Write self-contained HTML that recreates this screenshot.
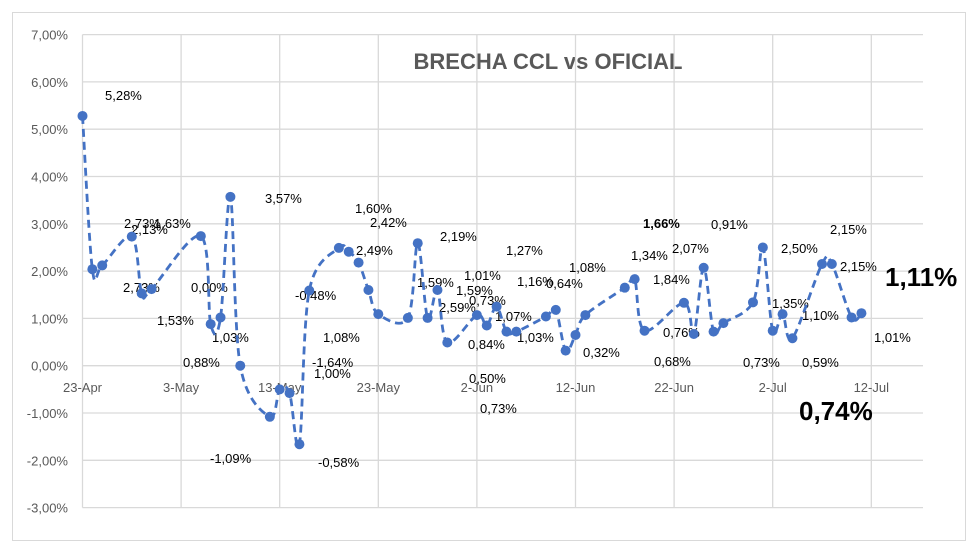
<!DOCTYPE html>
<html><head><meta charset="utf-8"><style>
html,body{margin:0;padding:0;background:#fff;}
svg{display:block;font-family:"Liberation Sans",Arial,sans-serif;}
</style></head><body>
<svg id="chart" width="980" height="555" viewBox="0 0 980 555">
<rect x="12.5" y="12.5" width="953" height="528" fill="#fff" stroke="#d9d9d9"/>
<text x="548" y="69" text-anchor="middle" font-size="22" font-weight="bold" fill="#595959">BRECHA CCL vs OFICIAL</text>
<g id="grid"></g><g id="yticks"></g><g id="xticks"></g><g id="lbls"></g><g id="series"></g>
</svg>
<script>
const days=[0,1,2,5,6,7,12,13,14,15,16,19,20,21,22,23,26,27,28,29,30,33,34,35,36,37,40,41,42,43,44,47,48,49,50,51,55,56,57,61,62,63,64,65,68,69,70,71,72,75,76,78,79];
const values=[5.28,2.04,2.12,2.73,1.53,1.62,2.74,0.88,1.02,3.57,0.00,-1.08,-0.50,-0.58,-1.66,1.59,2.49,2.41,2.18,1.60,1.09,1.01,2.59,1.01,1.60,0.49,1.07,0.85,1.25,0.72,0.72,1.04,1.18,0.32,0.65,1.07,1.65,1.83,0.74,1.33,0.67,2.07,0.72,0.90,1.34,2.50,0.74,1.09,0.58,2.15,2.15,1.02,1.11];
const yTicks=[7,6,5,4,3,2,1,0,-1,-2,-3];
const yTickLabels=["7,00%","6,00%","5,00%","4,00%","3,00%","2,00%","1,00%","0,00%","-1,00%","-2,00%","-3,00%"];
const xTickDays=[0,10,20,30,40,50,60,70,80];
const xTickLabels=["23-Apr","3-May","13-May","23-May","2-Jun","12-Jun","22-Jun","2-Jul","12-Jul"];
const labels=[["5,28%",105,100,13,0],["2,73%",124,228,13,0],["2,13%",131,234,13,0],["1,63%",154,228,13,0],["2,73%",123,292,13,0],["0,00%",191,292,13,0],["1,53%",157,325,13,0],["1,03%",212,342,13,0],["0,88%",183,367,13,0],["3,57%",265,203,13,0],["-1,09%",210,463,13,0],["-0,48%",295,300,13,0],["-0,58%",318,467,13,0],["1,60%",355,213,13,0],["2,42%",370,227,13,0],["2,49%",356,255,13,0],["1,08%",323,342,13,0],["-1,64%",312,367,13,0],["1,00%",314,378,13,0],["2,19%",440,241,13,0],["1,59%",417,287,13,0],["1,01%",464,280,13,0],["1,59%",456,295,13,0],["2,59%",439,312,13,0],["0,73%",469,305,13,0],["1,27%",506,255,13,0],["1,07%",495,321,13,0],["1,03%",517,342,13,0],["0,84%",468,349,13,0],["0,50%",469,383,13,0],["0,73%",480,413,13,0],["1,16%",517,286,13,0],["0,64%",546,288,13,0],["1,08%",569,272,13,0],["0,32%",583,357,13,0],["1,66%",643,228,13,1],["1,34%",631,260,13,0],["2,07%",672,253,13,0],["1,84%",653,284,13,0],["0,76%",663,337,13,0],["0,68%",654,366,13,0],["0,91%",711,229,13,0],["0,73%",743,367,13,0],["2,50%",781,253,13,0],["1,35%",772,308,13,0],["1,10%",802,320,13,0],["0,59%",802,367,13,0],["2,15%",830,234,13,0],["2,15%",840,271,13,0],["1,01%",874,342,13,0],["1,11%",885,286,26,1],["0,74%",799,420,26,1]];
const NS="http://www.w3.org/2000/svg";
const X0=82.5,XD=9.86,Y0=365.7,YU=47.3;
function xs(d){return X0+d*XD;}
function ys(v){return Y0-v*YU;}
function mk(tag,attrs,parent){const e=document.createElementNS(NS,tag);for(const k in attrs)e.setAttribute(k,attrs[k]);parent.appendChild(e);return e;}
const grid=document.getElementById('grid'),yt=document.getElementById('yticks'),xt=document.getElementById('xticks'),lb=document.getElementById('lbls'),se=document.getElementById('series');
yTicks.forEach((v,i)=>{
 const l=mk('line',{x1:X0,x2:923,y1:ys(v),y2:ys(v),stroke:'#d9d9d9','stroke-width':1.3},grid);
 
 
 const t=mk('text',{x:68,y:ys(v)+5,'text-anchor':'end','font-size':13,fill:'#595959'},yt);
 t.textContent=yTickLabels[i];
 
 
});
xTickDays.forEach((d,i)=>{
 const l=mk('line',{x1:xs(d),x2:xs(d),y1:ys(7),y2:ys(-3),stroke:'#d9d9d9','stroke-width':1.3},grid);
 
 
 const t=mk('text',{x:xs(d),y:392,'text-anchor':'middle','font-size':13,fill:'#595959'},xt);
 t.textContent=xTickLabels[i];
 
 
});
// smooth path (Catmull-Rom)
const P=days.map((d,i)=>[xs(d),ys(values[i])]);
let dstr='M'+P[0][0]+','+P[0][1];
for(let i=0;i<P.length-1;i++){
 const p0=P[Math.max(0,i-1)],p1=P[i],p2=P[i+1],p3=P[Math.min(P.length-1,i+2)];
 const c1=[p1[0]+(p2[0]-p0[0])/6,p1[1]+(p2[1]-p0[1])/6],c2=[p2[0]-(p3[0]-p1[0])/6,p2[1]-(p3[1]-p1[1])/6];
 dstr+=' C'+c1[0]+','+c1[1]+' '+c2[0]+','+c2[1]+' '+p2[0]+','+p2[1];
}
const path=mk('path',{d:dstr,fill:'none',stroke:'#4472c4','stroke-width':2.8,'stroke-dasharray':'8,5'},se);


P.forEach(p=>{
 const c=mk('circle',{cx:p[0],cy:p[1],r:5,fill:'#4472c4'},se);
 
 
});
labels.forEach(a=>{
 const t=mk('text',{x:a[1],y:a[2],'font-size':a[3],fill:'#000','font-weight':a[4]?'bold':'normal'},lb);
 t.textContent=a[0];
 
 
});
</script>
</body></html>
